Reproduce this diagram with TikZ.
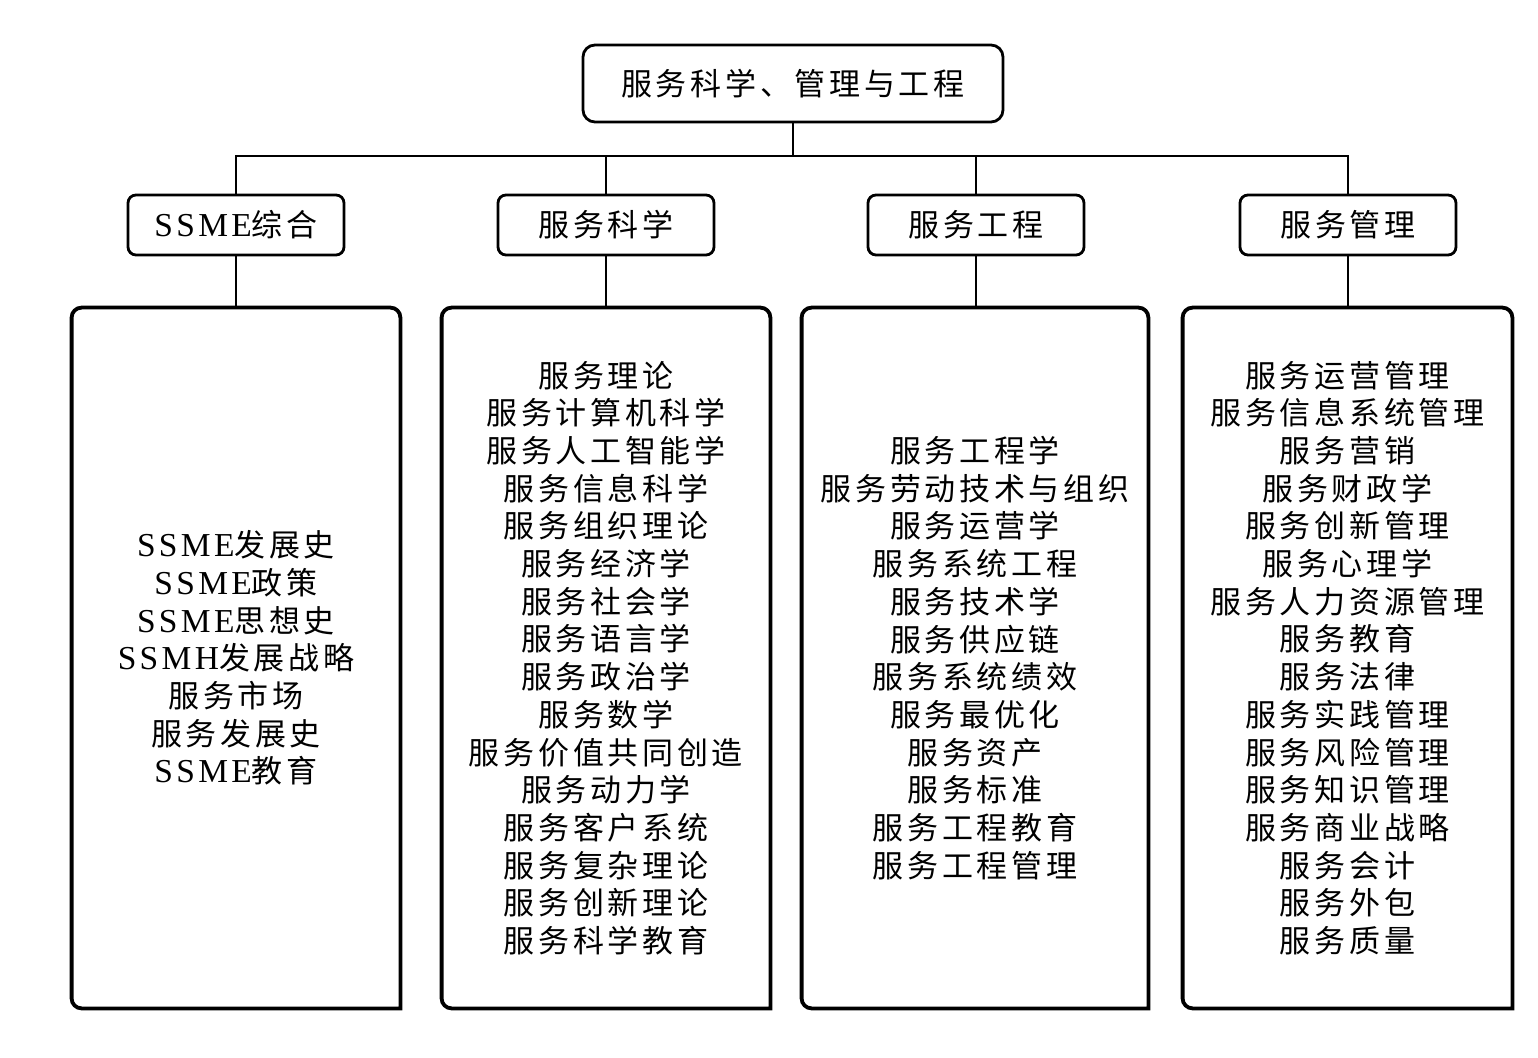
\documentclass[tikz,border=0pt]{standalone}
\usepackage{fontspec}
\setmainfont{Noto Sans CJK SC}[LetterSpace=12]
\newfontfamily\latn{Liberation Serif}[LetterSpace=10, Scale=1.08]
\usepackage{tikz}
\usetikzlibrary{calc}
\tikzset{
	txt/.style={font=\fontsize{15.5}{18.85}\selectfont, align=center, inner sep=0pt},
	rootbox/.style={txt, draw, line width=1.4pt, rounded corners=6pt, minimum width=210pt, minimum height=38.5pt},
	catbox/.style={txt, draw, line width=1.4pt, rounded corners=4pt, minimum width=108pt, minimum height=30pt},
	listbox/.style={txt, minimum height=350pt},
	listline/.style={line width=1.9pt, rounded corners=5pt, line cap=rect},
	link/.style={line width=0.75pt}
}
\begin{document}
\begin{tikzpicture}[x=0.5pt, y=-0.5pt]
	\useasboundingbox (0,0) rectangle (1538,1058);
	\node[rootbox] (root) at (793,83.5) {服务科学、管理与工程};
	\node[catbox] (c1) at (236,225) {{\latn SSME}综合};
	\node[catbox] (c2) at (606,225) {服务科学};
	\node[catbox] (c3) at (976,225) {服务工程};
	\node[catbox] (c4) at (1348,225) {服务管理};
	\node[listbox, minimum width=164pt] (l1) at (236,658) {{\latn SSME}发展史\\{\latn SSME}政策\\{\latn SSME}思想史\\{\latn SSMH}发展战略\\服务市场\\服务发展史\\{\latn SSME}教育};
	\node[listbox, minimum width=164pt] (l2) at (606,658) {服务理论\\服务计算机科学\\服务人工智能学\\服务信息科学\\服务组织理论\\服务经济学\\服务社会学\\服务语言学\\服务政治学\\服务数学\\服务价值共同创造\\服务动力学\\服务客户系统\\服务复杂理论\\服务创新理论\\服务科学教育};
	\node[listbox, minimum width=173pt] (l3) at (975,658) {服务工程学\\服务劳动技术与组织\\服务运营学\\服务系统工程\\服务技术学\\服务供应链\\服务系统绩效\\服务最优化\\服务资产\\服务标准\\服务工程教育\\服务工程管理};
	\node[listbox, minimum width=164.5pt] (l4) at (1347.5,658) {服务运营管理\\服务信息系统管理\\服务营销\\服务财政学\\服务创新管理\\服务心理学\\服务人力资源管理\\服务教育\\服务法律\\服务实践管理\\服务风险管理\\服务知识管理\\服务商业战略\\服务会计\\服务外包\\服务质量};
	\foreach \n in {l1,l2,l3,l4}
		\draw[listline] (\n.south east) -- (\n.south west) -- (\n.north west) -- (\n.north east) -- (\n.south east);
	\coordinate (bus) at (793,156);
	\draw[link] (root.south) -- (bus);
	\draw[link] (c1.north) |- (bus) -| (c4.north);
	\draw[link] (c2.north) -- (c2.north |- bus);
	\draw[link] (c3.north) -- (c3.north |- bus);
	\foreach \i in {1,2,3,4}
		\draw[link] (c\i.south) -- (c\i.south |- l\i.north);
\end{tikzpicture}
\end{document}
